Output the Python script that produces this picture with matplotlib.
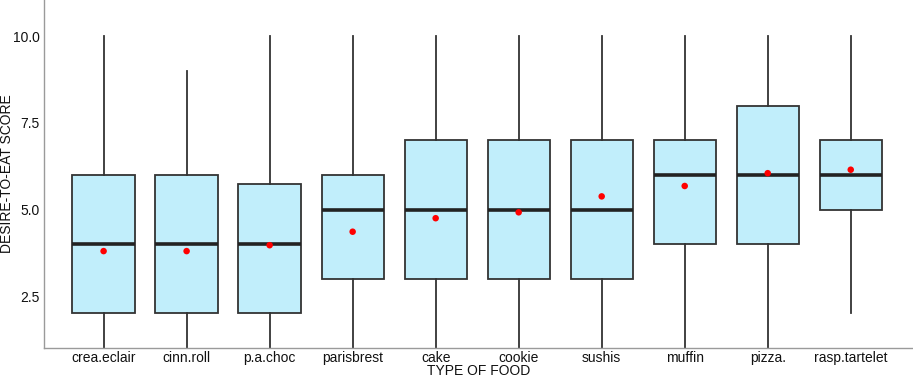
import matplotlib
matplotlib.use("Agg")
from matplotlib import pyplot as plt
import numpy as np

# data
foods = ['crea.eclair', 'cinn.roll', 'p.a.choc', 'parisbrest', 'cake',
         'cookie', 'sushis', 'muffin', 'pizza.', 'rasp.tartelet']
whislo = [1, 1, 1, 1, 1, 1, 1, 1, 1, 2]
q1     = [2, 2, 2, 3, 3, 3, 3, 4, 4, 5]
med    = [4, 4, 4, 5, 5, 5, 5, 6, 6, 6]
q3     = [6, 6, 5.75, 6, 7, 7, 7, 7, 8, 7]
whishi = [10, 9, 10, 10, 10, 10, 10, 10, 10, 10]
means  = [3.8, 3.8, 3.97, 4.36, 4.75, 4.92, 5.38, 5.68, 6.05, 6.15]

plt.rcParams['font.family'] = ['Liberation Sans', 'DejaVu Sans']

stats = []
for i, name in enumerate(foods):
    stats.append(dict(label=name, whislo=whislo[i], q1=q1[i], med=med[i],
                      q3=q3[i], whishi=whishi[i], fliers=[]))

fig = plt.figure(figsize=(9.13, 3.8), dpi=100)
ax = fig.add_axes([0.048, 0.084, 0.952, 0.916])

pos = np.arange(1, len(foods) + 1)
ax.bxp(stats, positions=pos, widths=0.75, patch_artist=True, showcaps=False,
       boxprops=dict(facecolor='#c1eefb', edgecolor='#333333', linewidth=1.3),
       whiskerprops=dict(color='#333333', linewidth=1.3),
       medianprops=dict(color='#222222', linewidth=2.6))
ax.scatter(pos, means, color='red', s=22, zorder=5, edgecolors='none')

ax.set_xlim(0.28, 10.75)
ax.set_ylim(1.0, 11.05)
ax.set_yticks([2.5, 5.0, 7.5, 10.0])
ax.set_yticklabels(['2.5', '5.0', '7.5', '10.0'])
ax.set_xticks(pos)
ax.set_xticklabels(foods)
ax.tick_params(length=0, labelsize=10, colors='#111111')
ax.tick_params(axis='x', pad=2)
ax.tick_params(axis='y', pad=3)

for s in ['top', 'right']:
    ax.spines[s].set_visible(False)
for s in ['left', 'bottom']:
    ax.spines[s].set_color('#9a9a9a')
    ax.spines[s].set_linewidth(1.0)

ax.set_xlabel('TYPE OF FOOD', fontsize=10, color='#111111')
ax.xaxis.set_label_coords(0.5, -0.045, transform=ax.transAxes)
ax.set_ylabel('DESIRE-TO-EAT SCORE', fontsize=10, color='#111111')
ax.yaxis.set_label_coords(-0.034, 0.5, transform=ax.transAxes)

fig.savefig('out.png', dpi=100)
